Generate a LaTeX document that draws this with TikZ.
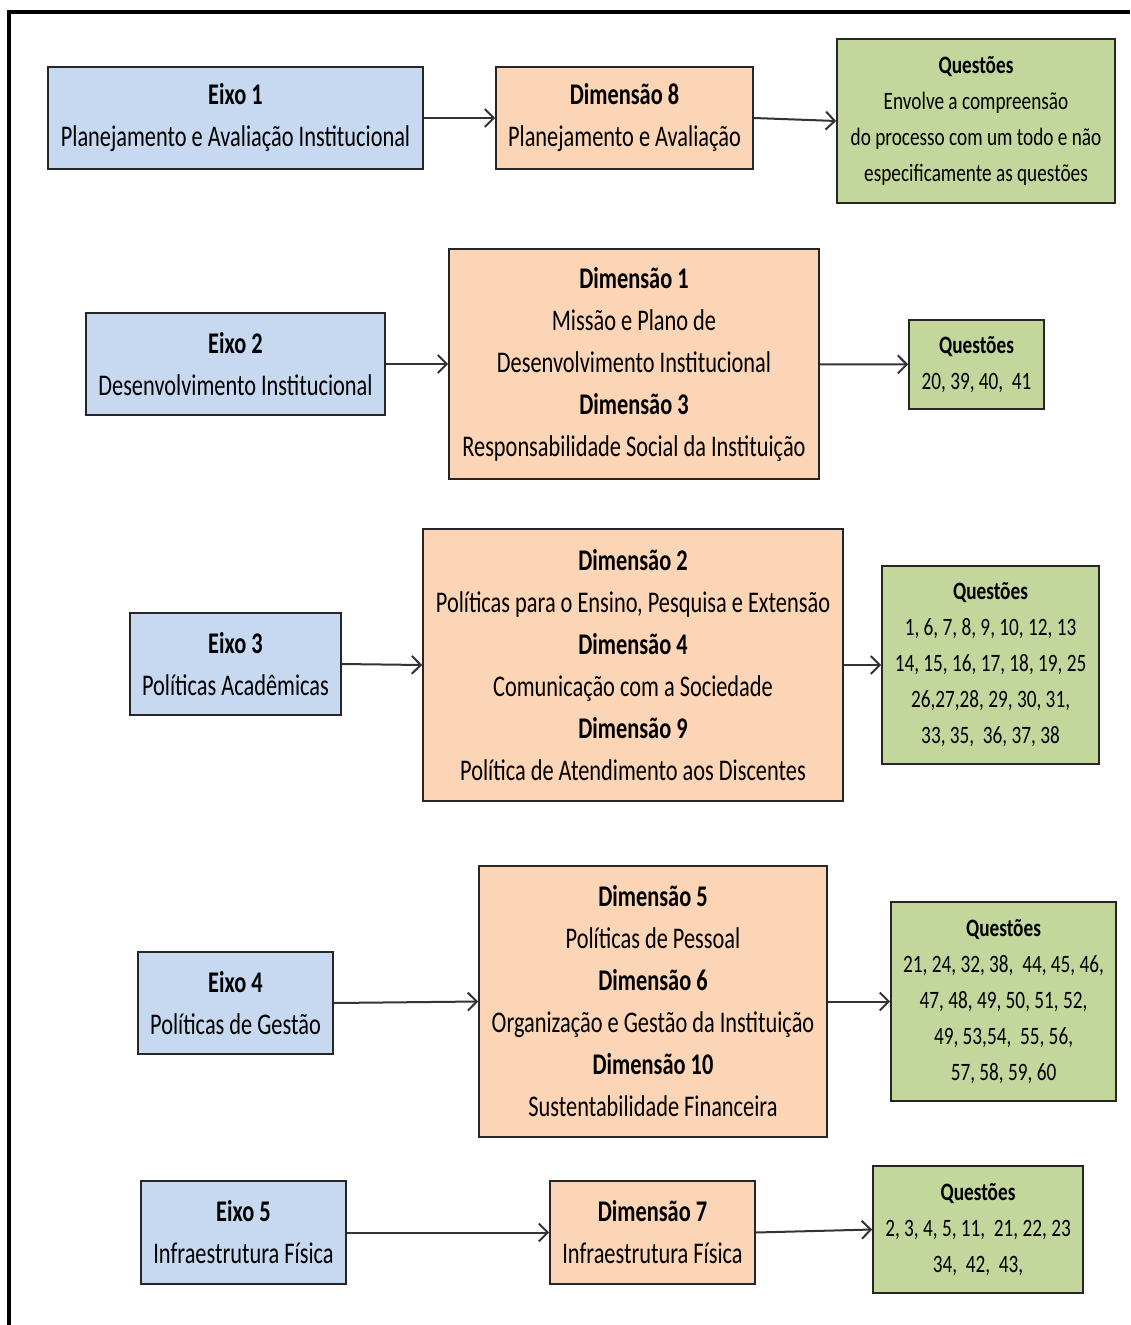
\documentclass[tikz,border=0pt]{standalone}
\usepackage{fontspec}
\setmainfont{Carlito}[FakeStretch=0.745]
\newfontfamily\questfont{Carlito}[FakeStretch=0.77]
\usepackage{tikz}
\usetikzlibrary{arrows.meta}
\tikzset{>={Straight Barb[width=18pt,length=9pt]}}
\definecolor{eixoblue}{HTML}{C6D9F1}
\definecolor{dimorange}{HTML}{FBD5B5}
\definecolor{questgreen}{HTML}{C3D69B}
\newcommand{\TIT}[1]{\textbf{#1}}
\tikzset{
  box/.style={draw=black!85, line width=1.6pt, align=center, inner sep=0pt},
  eixo/.style={box, fill=eixoblue, font=\fontsize{30}{42}\selectfont},
  dimensao/.style={box, fill=dimorange, font=\fontsize{30}{42}\selectfont},
  questoes/.style={box, fill=questgreen, font=\questfont\fontsize{25}{36}\selectfont},
  seta/.style={->, draw=black!80, line width=2pt}
}

\begin{document}
\begin{tikzpicture}[x=1pt, y=-1pt]
\useasboundingbox (0,0) rectangle (1130,1325);
\draw[line width=4.3pt] (8.7,1325) -- (8.7,12.2) -- (1130,12.2);

% Eixo 1
\node[eixo, minimum width=375pt, minimum height=102pt] (e1) at (235.5,118)
  {\TIT{Eixo 1}\\Planejamento e Avaliação Institucional};
\node[dimensao, minimum width=257pt, minimum height=102pt] (d8) at (624.5,118)
  {\TIT{Dimensão 8}\\Planejamento e Avaliação};
\node[questoes, minimum width=278pt, minimum height=164pt] (q1) at (976,121)
  {\TIT{Questões}\\Envolve a compreensão\\do processo com um todo e não\\especificamente as questões};

% Eixo 2
\node[eixo, minimum width=299pt, minimum height=102pt] (e2) at (235.5,364)
  {\TIT{Eixo 2}\\Desenvolvimento Institucional};
\node[dimensao, minimum width=370pt, minimum height=230pt] (d13) at (634,364)
  {\TIT{Dimensão 1}\\Missão e Plano de\\Desenvolvimento Institucional\\
   \TIT{Dimensão 3}\\Responsabilidade Social da Instituição};
\node[questoes, minimum width=135pt, minimum height=89pt] (q2) at (976.5,364.5)
  {\TIT{Questões}\\20, 39, 40,~ 41};

% Eixo 3
\node[eixo, minimum width=211pt, minimum height=102pt] (e3) at (235.5,664)
  {\TIT{Eixo 3}\\Políticas Acadêmicas};
\node[dimensao, minimum width=420pt, minimum height=272pt] (d249) at (633,665)
  {\TIT{Dimensão 2}\\Políticas para o Ensino, Pesquisa e Extensão\\
   \TIT{Dimensão 4}\\Comunicação com a Sociedade\\
   \TIT{Dimensão 9}\\Política de Atendimento aos Discentes};
\node[questoes, minimum width=217pt, minimum height=198pt] (q3) at (990.5,665)
  {\TIT{Questões}\\1, 6, 7, 8, 9, 10, 12, 13\\14, 15, 16, 17, 18, 19, 25\\
   26,27,28, 29, 30, 31,\\33, 35,~ 36, 37, 38};

% Eixo 4
\node[eixo, minimum width=195pt, minimum height=102pt] (e4) at (235.5,1003)
  {\TIT{Eixo 4}\\Políticas de Gestão};
\node[dimensao, minimum width=348pt, minimum height=271pt] (d5610) at (653,1001.5)
  {\TIT{Dimensão 5}\\Políticas de Pessoal\\
   \TIT{Dimensão 6}\\Organização e Gestão da Instituição\\
   \TIT{Dimensão 10}\\Sustentabilidade Financeira};
\node[questoes, minimum width=225pt, minimum height=199pt] (q4) at (1003.5,1001.5)
  {\TIT{Questões}\\21, 24, 32, 38,~ 44, 45, 46,\\47, 48, 49, 50, 51, 52,\\
   49, 53,54,~ 55, 56,\\57, 58, 59, 60};

% Eixo 5
\node[eixo, minimum width=205pt, minimum height=103pt] (e5) at (243.5,1232.5)
  {\TIT{Eixo 5}\\Infraestrutura Física};
\node[dimensao, minimum width=205pt, minimum height=103pt] (d7) at (652.5,1232.5)
  {\TIT{Dimensão 7}\\Infraestrutura Física};
\node[questoes, minimum width=210pt, minimum height=127pt] (q5) at (978,1229.5)
  {\TIT{Questões}\\2, 3, 4, 5, 11,~ 21, 22, 23\\34,~ 42,~ 43,};

\draw[seta] (e1) -- (d8);
\draw[seta] (d8.east) -- (q1.west);
\draw[seta] (e2) -- (d13);
\draw[seta] (d13) -- (q2);
\draw[seta] (e3.east) -- (d249.west);
\draw[seta] (d249) -- (q3);
\draw[seta] (e4.east) -- (d5610.west);
\draw[seta] (d5610) -- (q4);
\draw[seta] (e5) -- (d7);
\draw[seta] (d7.east) -- (q5.west);
\end{tikzpicture}
\end{document}
